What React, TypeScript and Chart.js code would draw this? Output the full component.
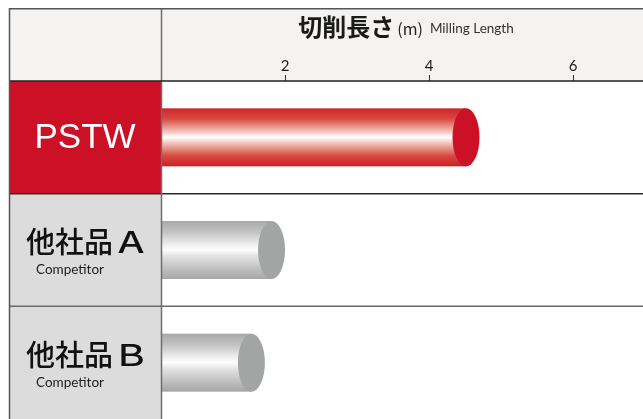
import React, { useEffect, useRef } from 'react';
import { Chart, registerables } from 'chart.js';

Chart.register(...registerables);

// ---- data ----
const categories = ['PSTW', '他社品Ａ', '他社品Ｂ'];
const subLabels = ['', 'Competitor', 'Competitor'];
const millingLength = [4.7, 2.0, 1.72];
const tickValues = [2, 4, 6];
const axisMin = 0;
const axisMax = 6.97;
const titleMain = '切削長さ';
const titleUnit = '(m)';
const titleEn = 'Milling Length';

// ---- styles ----
const CANVAS_W = 635;
const CANVAS_H = 411;
const redStops: [number, string][] = [
  [0, '#cf2429'],
  [0.18, '#d8493f'],
  [0.4, '#f1c4ba'],
  [0.5, '#ffffff'],
  [0.6, '#f1c4ba'],
  [0.82, '#d8493f'],
  [1, '#cc1f26'],
];
const grayStops: [number, string][] = [
  [0, '#a9a9a9'],
  [0.2, '#c4c4c4'],
  [0.42, '#f2f2f2'],
  [0.5, '#fdfdfd'],
  [0.6, '#e4e4e4'],
  [0.82, '#c0c0c0'],
  [1, '#a6a6a6'],
];
const bodyStops = [redStops, grayStops, grayStops];
const capColors = ['#cc1126', '#a3a5a4', '#a3a5a4'];
const cellColors = ['#cc1126', '#dcdcdc', '#dcdcdc'];
const headerBg = '#f4f3f1';
const capRadius = 13.5;
const leftColRight = 153;

function drawLabel(ctx: CanvasRenderingContext2D, text: string, x: number, y: number) {
  // last full-width letter is drawn a little wider, like the original typeface
  const last = text.slice(-1);
  const head = text.slice(0, -1);
  ctx.fillText(head, x, y);
  const w = ctx.measureText(head).width;
  ctx.save();
  ctx.translate(x + w, y);
  ctx.scale(1.25, 1);
  ctx.fillText(last, 0, 0);
  ctx.restore();
}

const tablePlugin = {
  id: 'tableLayout',
  beforeDraw(chart: any) {
    const { ctx, chartArea: ca, width } = chart;
    ctx.save();
    ctx.fillStyle = headerBg;
    ctx.fillRect(1, 0, width - 1, ca.top);
    ctx.fillStyle = '#ffffff';
    ctx.fillRect(leftColRight, ca.top, width - leftColRight, ca.bottom - ca.top);
    // title
    const cx = (leftColRight + width) / 2 + 4;
    const y = 19;
    const f1 = 'bold 24px "Noto Sans CJK JP"';
    const f2 = '16px "Noto Sans CJK JP"';
    const f3 = '13.5px Lato';
    ctx.font = f1;
    const w1 = ctx.measureText(titleMain).width;
    ctx.font = f2;
    const w2 = ctx.measureText(titleUnit).width;
    ctx.font = f3;
    const w3 = ctx.measureText(titleEn).width;
    const g1 = 3, g2 = 7;
    let x = cx - (w1 + g1 + w2 + g2 + w3) / 2;
    ctx.fillStyle = '#1a1a1a';
    ctx.textBaseline = 'middle';
    ctx.textAlign = 'left';
    ctx.font = f1;
    ctx.fillText(titleMain, x, y);
    x += w1 + g1;
    ctx.font = f2;
    ctx.fillStyle = '#222';
    ctx.fillText(titleUnit, x, y + 2);
    x += w2 + g2;
    ctx.font = f3;
    ctx.fillStyle = '#333';
    ctx.fillText(titleEn, x, y + 2);
    ctx.restore();
  },
  afterDatasetsDraw(chart: any) {
    const { ctx, chartArea: ca } = chart;
    const meta = chart.getDatasetMeta(0);
    ctx.save();
    ctx.beginPath();
    ctx.rect(ca.left, ca.top, ca.right - ca.left, ca.bottom - ca.top);
    ctx.clip();
    meta.data.forEach((el: any, i: number) => {
      const { x, y, base, height } = el.getProps(['x', 'y', 'base', 'height'], true);
      const top = y - height / 2;
      const cx = x - capRadius;
      const g = ctx.createLinearGradient(0, top, 0, top + height);
      bodyStops[i].forEach(([o, c]) => g.addColorStop(o, c));
      ctx.fillStyle = g;
      ctx.fillRect(base, top, cx - base, height);
      ctx.beginPath();
      ctx.ellipse(cx, y, capRadius, height / 2, 0, 0, Math.PI * 2);
      ctx.fillStyle = capColors[i];
      ctx.fill();
    });
    ctx.restore();
  },
  afterDraw(chart: any) {
    const { ctx, chartArea: ca, width } = chart;
    const ys = chart.scales.y;
    const step = ys.getPixelForValue(1) - ys.getPixelForValue(0);
    ctx.save();
    ctx.fillStyle = headerBg;
    ctx.fillRect(1, 0, leftColRight - 1, ca.top);
    const bounds: number[] = [];
    categories.forEach((label, i) => {
      const c = ys.getPixelForValue(i);
      const t = c - step / 2;
      bounds.push(t);
      ctx.fillStyle = cellColors[i];
      ctx.fillRect(1, t, leftColRight - 1, step);
      if (i === 0) {
        ctx.fillStyle = '#ffffff';
        ctx.font = '35px "Liberation Sans", Arial, sans-serif';
        ctx.textAlign = 'center';
        ctx.textBaseline = 'middle';
        ctx.fillText(label, 77, c + 1);
      } else {
        ctx.fillStyle = '#111111';
        ctx.font = '500 29px "Noto Sans CJK JP"';
        ctx.textAlign = 'left';
        ctx.textBaseline = 'middle';
        drawLabel(ctx, label, 18, c - 8);
        ctx.fillStyle = '#222222';
        ctx.font = '13.5px Lato';
        ctx.fillText(subLabels[i], 28, c + 20);
      }
    });
    ctx.lineWidth = 1.5;
    bounds.slice(1).forEach((b, k) => {
      ctx.strokeStyle = k === 0 ? '#2a2a2a' : '#6a6a6a';
      ctx.beginPath();
      ctx.moveTo(1, b);
      ctx.lineTo(width, b);
      ctx.stroke();
    });
    ctx.strokeStyle = '#6e6e6e';
    ctx.beginPath();
    ctx.moveTo(leftColRight + 0.5, 0);
    ctx.lineTo(leftColRight + 0.5, ca.bottom);
    ctx.stroke();
    ctx.strokeStyle = '#222222';
    ctx.beginPath();
    ctx.moveTo(1, ca.top);
    ctx.lineTo(width, ca.top);
    ctx.stroke();
    ctx.strokeStyle = '#555555';
    ctx.beginPath();
    ctx.moveTo(1.5, ca.bottom);
    ctx.lineTo(1.5, 0.75);
    ctx.lineTo(width, 0.75);
    ctx.stroke();
    ctx.restore();
  },
};

export default function App() {
  const ref = useRef<HTMLCanvasElement | null>(null);
  useEffect(() => {
    if (!ref.current) return;
    const chart = new Chart(ref.current, {
      type: 'bar',
      data: {
        labels: categories,
        datasets: [
          {
            data: millingLength,
            backgroundColor: 'rgba(0,0,0,0)',
            borderWidth: 0,
            barThickness: 58,
          },
        ],
      },
      options: {
        indexAxis: 'y',
        animation: false,
        responsive: false,
        maintainAspectRatio: false,
        devicePixelRatio: 1,
        events: [],
        layout: { padding: { left: 133, top: 47, right: 0, bottom: 0 } },
        plugins: { legend: { display: false }, tooltip: { enabled: false } },
        scales: {
          x: {
            type: 'linear',
            position: 'top',
            min: axisMin,
            max: axisMax,
            afterBuildTicks: (s: any) => {
              s.ticks = tickValues.map((v) => ({ value: v }));
            },
            afterFit: (s: any) => {
              s.height = 26;
            },
            ticks: {
              padding: 0,
              color: '#1a1a1a',
              font: { family: 'Lato', size: 15 },
            },
            grid: {
              drawOnChartArea: false,
              drawTicks: true,
              tickLength: 6,
              color: '#333333',
              lineWidth: 1,
            },
            border: { display: false },
          },
          y: { type: 'category', display: false },
        },
      },
      plugins: [tablePlugin],
    });
    return () => chart.destroy();
  }, []);
  return (
    <div style={{ position: 'absolute', left: 8, top: 8, width: CANVAS_W, height: CANVAS_H }}>
      <canvas
        ref={ref}
        width={CANVAS_W}
        height={CANVAS_H}
        style={{ display: 'block', width: CANVAS_W, height: CANVAS_H }}
      />
    </div>
  );
}
